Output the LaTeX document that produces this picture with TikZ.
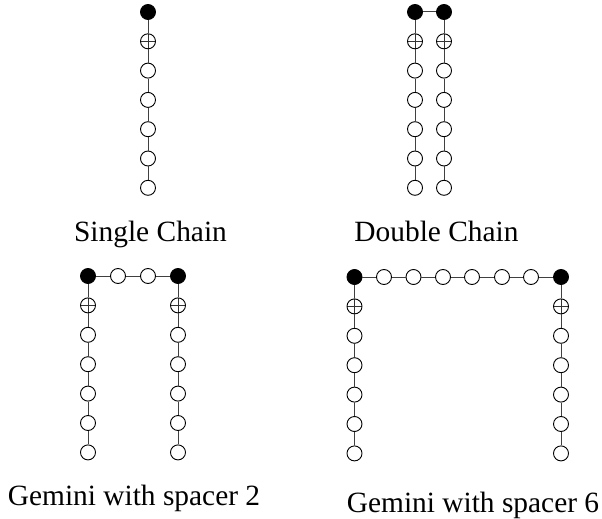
\documentclass[tikz,border=0pt]{standalone}
\usepackage{fontspec}
\setmainfont{Liberation Serif}
\begin{document}
\begin{tikzpicture}[x=1pt,y=-1pt,
  bead/.style={circle,draw=black,line width=0.9pt,fill=white,minimum size=15pt,inner sep=0pt},
  head/.style={bead,fill=black},
  crossbead/.style={bead,path picture={\draw[line width=0.7pt,black!80] (path picture bounding box.west)--(path picture bounding box.east) (path picture bounding box.north)--(path picture bounding box.south);}},
  link/.style={line width=1pt,black!75},
  captext/.style={font=\fontsize{29.4}{32}\selectfont,anchor=base}]
\useasboundingbox (0,0) rectangle (602,519);
% chain: #1 prefix, #2 x, #3 top y, #4 step
\newcommand{\beadchain}[4]{%
  \node[head] (#1a) at (#2,#3) {};
  \node[crossbead] (#1b) at (#2,#3+#4) {};
  \node[bead] (#1c) at (#2,#3+2*#4) {};
  \node[bead] (#1d) at (#2,#3+3*#4) {};
  \node[bead] (#1e) at (#2,#3+4*#4) {};
  \node[bead] (#1f) at (#2,#3+5*#4) {};
  \node[bead] (#1g) at (#2,#3+6*#4) {};
  \draw[link] (#1a)--(#1b) (#1b)--(#1c) (#1c)--(#1d) (#1d)--(#1e) (#1e)--(#1f) (#1f)--(#1g);
}
\beadchain{s}{148}{12}{29.3}
\beadchain{dl}{415}{12}{29.3}
\beadchain{dr}{444}{12}{29.3}
\draw[link] (dla)--(dra);
\beadchain{gl}{88}{276}{29.4}
\beadchain{gr}{178}{276}{29.4}
\node[bead] (ga) at (118,276) {};
\node[bead] (gb) at (148,276) {};
\draw[link] (gla)--(ga) (ga)--(gb) (gb)--(gra);
\beadchain{hl}{354.5}{277}{29.4}
\beadchain{hr}{561}{277}{29.4}
\node[bead] (ha) at (384,277) {};
\node[bead] (hb) at (413.5,277) {};
\node[bead] (hc) at (443,277) {};
\node[bead] (hd) at (472,277) {};
\node[bead] (he) at (502,277) {};
\node[bead] (hf) at (531,277) {};
\draw[link] (hla)--(ha) (ha)--(hb) (hb)--(hc) (hc)--(hd) (hd)--(he) (he)--(hf) (hf)--(hra);
\node[captext] (t1) at (150.5,241) {Single Chain};
\node[captext] (t2) at (436.5,241) {Double Chain};
\node[captext] (t3) at (134,505.5) {Gemini with spacer 2};
\node[captext] (t4) at (473,512) {Gemini with spacer 6};
\end{tikzpicture}
\end{document}
